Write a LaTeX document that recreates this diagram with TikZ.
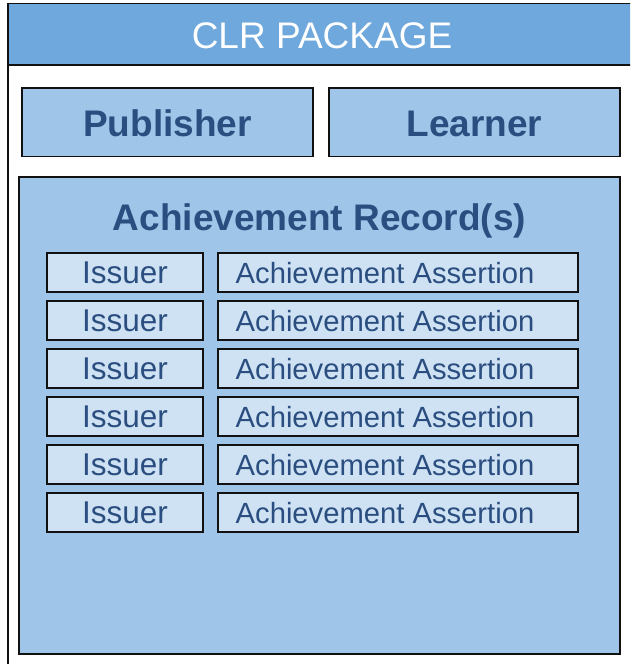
\documentclass[tikz,border=0pt]{standalone}
\usepackage{fontspec}
\setmainfont{Liberation Sans}
\definecolor{hdrblue}{HTML}{6FA8DC}
\definecolor{boxblue}{HTML}{9FC5E8}
\definecolor{rowblue}{HTML}{CFE2F3}
\definecolor{inkblue}{HTML}{2B4E80}
\definecolor{edge}{HTML}{111111}
\begin{document}
\begin{tikzpicture}[x=1pt,y=-1pt,
  frame/.style={draw=edge,line width=1.8pt,inner sep=0pt,outer sep=0pt},
  bigbox/.style={frame,fill=boxblue},
  rowbox/.style={frame,fill=rowblue,minimum height=39pt},
  bigtxt/.style={inner sep=0pt,font=\fontsize{37}{40}\selectfont\bfseries,text=inkblue,anchor=base},
  isstxt/.style={inner sep=0pt,font=\fontsize{31.5}{34}\selectfont,text=inkblue},
  asttxt/.style={inner sep=0pt,font=\fontsize{29.2}{32}\selectfont,text=inkblue}
]
\useasboundingbox (0,0) rectangle (630,664);
\clip (0,0) rectangle (630,664);
% package frame and its header band
\node[frame,fill=white,minimum width=628pt,minimum height=680pt] (pkg) at (322,343.5) {};
\node[frame,fill=hdrblue,minimum width=628pt,minimum height=61.5pt] (hdr) at (322,34.25) {};
\node[inner sep=0pt,anchor=base,text=white,font=\fontsize{37}{40}\selectfont] (hdrtxt) at (322,48) {CLR PACKAGE};
% publisher and learner
\node[bigbox,minimum width=291pt,minimum height=68.5pt] (pub) at (167.5,122.25) {};
\node[bigtxt] (pubtxt) at (pub.center |- 0,136) {Publisher};
\node[bigbox,minimum width=291pt,minimum height=68.5pt] (lrn) at (474.5,122.25) {};
\node[bigtxt] (lrntxt) at (lrn.center |- 0,136) {Learner};
% achievement records
\node[bigbox,minimum width=601pt,minimum height=477pt] (rec) at (319.5,415.5) {};
\node[bigtxt] (rectxt) at (rec.center |- 0,230) {Achievement Record(s)};
\foreach \i in {0,...,5}{
  \node[rowbox,minimum width=156pt] (iss\i) at (125,272.5+48*\i) {};
  \node[isstxt,anchor=base] at (125,283.8+48*\i) {Issuer};
  \node[rowbox,minimum width=360pt] (ast\i) at (398,272.5+48*\i) {};
  \node[asttxt,anchor=base west] at (235.5,283.5+48*\i) {Achievement Assertion};
}
\end{tikzpicture}
\end{document}
